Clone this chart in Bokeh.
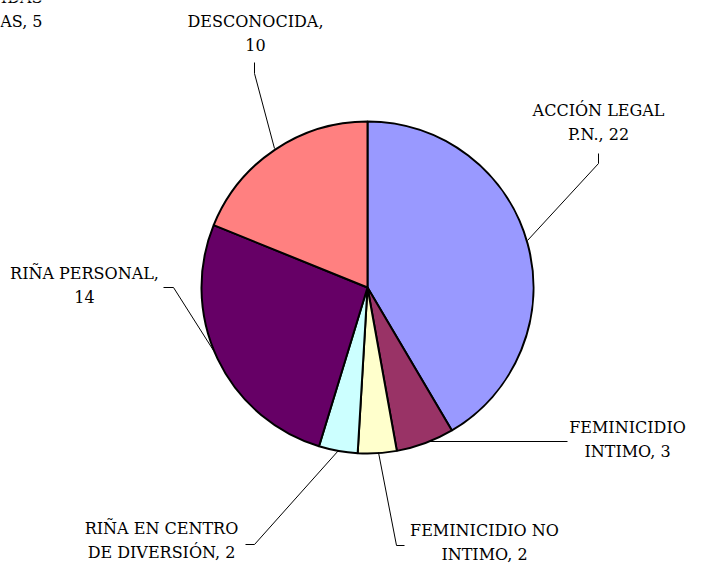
import numpy as np
from bokeh.plotting import figure
from bokeh.models import Range1d, ColumnDataSource
from bokeh.core.properties import value
from bokeh.embed import file_html
from bokeh.resources import INLINE

# ---- data ----
categories = ["ACCIÓN LEGAL P.N.", "FEMINICIDIO INTIMO", "FEMINICIDIO NO INTIMO",
              "RIÑA EN CENTRO DE DIVERSIÓN", "RIÑA PERSONAL", "DESCONOCIDA"]
counts = [22, 3, 2, 2, 14, 10]
colors = ["#9999FF", "#993366", "#FFFFCC", "#CCFFFF", "#660066", "#FF8080"]
label_lines = [["ACCIÓN LEGAL", "P.N., 22"], ["FEMINICIDIO", "INTIMO, 3"],
               ["FEMINICIDIO NO", "INTIMO, 2"], ["RIÑA EN CENTRO", "DE DIVERSIÓN, 2"],
               ["RIÑA PERSONAL,", "14"], ["DESCONOCIDA,", "10"]]
# partially visible label at top-left corner (clipped in original)
clipped_lines = ["IDAS", "AS, 5"]

# ---- layout (reference pixel coordinates) ----
W, H = 687, 567
def Y(py):
    return H - py

cx, cy, R = 367, Y(287), 166
label_pos = [(598, 100), (627, 417), (484, 520), (161, 518), (84, 263), (255, 11)]
leaders = [
    [(598, 153), (598, 163), (527, 240)],
    [(567, 441), (429, 441)],
    [(404, 545), (396, 545), (378, 452)],
    [(245, 544), (254, 544), (338, 450)],
    [(163, 287), (173, 287), (213, 350)],
    [(254, 62), (254, 73), (274, 148)],
]

p = figure(width=W, height=H, output_backend="svg", toolbar_location=None,
           x_range=Range1d(0, W), y_range=Range1d(0, H),
           min_border=0)
p.axis.visible = False
p.grid.visible = False
p.outline_line_color = None
p.background_fill_color = "white"

total = sum(counts)
cum = np.cumsum([0] + counts)
start_cw = cum[:-1] / total * 2 * np.pi
end_cw = cum[1:] / total * 2 * np.pi
src = ColumnDataSource(dict(
    start=np.pi / 2 - start_cw, end=np.pi / 2 - end_cw, color=colors, cat=categories))
p.wedge(x=cx, y=cy, radius=R, start_angle="start", end_angle="end",
        direction="clock", fill_color="color", line_color="black",
        line_width=2, source=src)

for pts in leaders:
    xs = [q[0] for q in pts]
    ys = [Y(q[1]) for q in pts]
    p.line(xs, ys, line_color="black", line_width=1)

font = value("DejaVu Serif")
for (lx, ly), lines in zip(label_pos, label_lines):
    p.text(x=[lx], y=[Y(ly)], text=["\n".join(lines)], text_font=font,
           text_font_size="16px", text_align="center", text_baseline="top",
           text_line_height=1.3, text_color="black")

p.text(x=[42], y=[Y(-13)], text=["\n".join(clipped_lines)], text_font=font,
       text_font_size="16px", text_align="right", text_baseline="top",
       text_line_height=1.3, text_color="black")

open("out.html", "w").write(file_html(p, INLINE))
